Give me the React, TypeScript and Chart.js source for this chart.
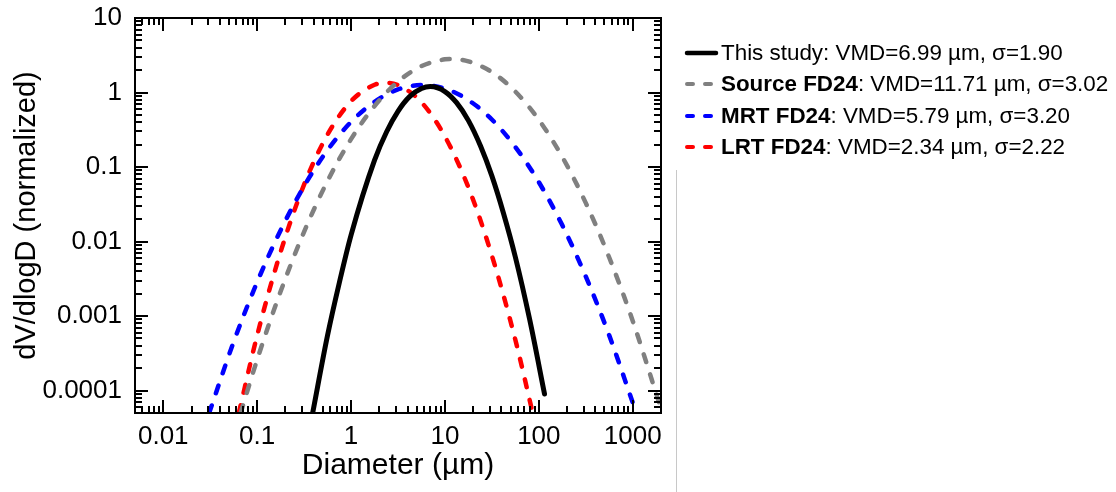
import React, { useEffect, useRef } from 'react';
import { Chart, registerables } from 'chart.js';

Chart.register(...registerables);

// ---- Data ----
const thisStudyD = [0.39, 0.56, 0.75, 1, 1.78, 2.4, 3.16, 4.2, 5.62, 6.99, 10, 13.3, 17.8, 24, 31.6, 42, 56.2, 80, 115];
const thisStudyV = [0.00005, 0.00054, 0.0028, 0.0122, 0.124, 0.3, 0.56, 0.88, 1.13, 1.2, 1.03, 0.73, 0.42, 0.19, 0.076, 0.024, 0.0062, 0.00089, 0.00009];

const sourceD = [0.0667, 0.1, 0.178, 0.316, 0.562, 1, 1.78, 3.16, 5.62, 10, 11.7, 17.8, 31.6, 56.2, 100, 178, 316, 562, 1000, 2000];
const sourceV = [0.00005, 0.00026, 0.00215, 0.0135, 0.065, 0.237, 0.66, 1.4, 2.26, 2.79, 2.82, 2.62, 1.88, 1.03, 0.43, 0.136, 0.033, 0.0061, 0.00086, 0.000057];

const mrtD = [0.0308, 0.0562, 0.1, 0.178, 0.316, 0.562, 1, 1.78, 3.16, 5.79, 10, 17.8, 31.6, 56.2, 100, 178, 316, 562, 1000];
const mrtV = [0.00005, 0.00045, 0.00286, 0.0142, 0.0554, 0.169, 0.403, 0.75, 1.1, 1.26, 1.13, 0.79, 0.434, 0.186, 0.0627, 0.0165, 0.0034, 0.00055, 0.000069];

const lrtD = [0.0638, 0.1, 0.178, 0.316, 0.562, 1, 1.78, 2.34, 3.16, 5.62, 10, 17.8, 31.6, 56.2, 86];
const lrtV = [0.00005, 0.00055, 0.0073, 0.058, 0.273, 0.764, 1.27, 1.35, 1.26, 0.74, 0.257, 0.053, 0.0065, 0.00048, 0.00005];

const xTickValues = [0.01, 0.1, 1, 10, 100, 1000];
const xTickLabels = ['0.01', '0.1', '1', '10', '100', '1000'];
const yTickValues = [0.0001, 0.001, 0.01, 0.1, 1, 10];
const yTickLabels = ['0.0001', '0.001', '0.01', '0.1', '1', '10'];

const seriesNames = ['This study', 'Source FD24', 'MRT FD24', 'LRT FD24'];
const seriesStats = [': VMD=6.99 µm, σ=1.90', ': VMD=11.71 µm, σ=3.02', ': VMD=5.79 µm, σ=3.20', ': VMD=2.34 µm, σ=2.22'];
const seriesBold = [false, true, true, true];
const seriesColors = ['#000000', '#808080', '#0000ff', '#ff0000'];
const seriesDashed = [false, true, true, true];

const xTitle = 'Diameter (µm)';
const yTitle = 'dV/dlogD (normalized)';

const FONT = '"Liberation Sans", Arial, sans-serif';

function pts(xs: number[], ys: number[]) {
  return xs.map((x, i) => ({ x, y: ys[i] }));
}

function labelFor(values: number[], labels: string[], v: number) {
  const i = values.findIndex((t) => Math.abs(t - v) / t < 1e-6);
  return i >= 0 ? labels[i] : '';
}

const framePlugin = {
  id: 'frameTicks',
  afterDraw(chart: any) {
    const { ctx, chartArea } = chart;
    const { left, right, top, bottom } = chartArea;
    const xs = chart.scales.x;
    const ys = chart.scales.y;
    ctx.save();
    ctx.strokeStyle = '#000';
    ctx.lineWidth = 2;
    ctx.strokeRect(left, top, right - left, bottom - top);
    ctx.lineWidth = 2;
    const major = 13;
    const minor = 7;
    for (let e = -6; e <= 5; e++) {
      for (let m = 1; m <= 9; m++) {
        const v = m * Math.pow(10, e);
        const len = m === 1 ? major : minor;
        if (v >= xs.min * 0.9999 && v <= xs.max * 1.0001) {
          const px = Math.round(xs.getPixelForValue(v));
          ctx.beginPath();
          ctx.moveTo(px, bottom);
          ctx.lineTo(px, bottom - len);
          ctx.moveTo(px, top);
          ctx.lineTo(px, top + len);
          ctx.stroke();
        }
        if (v >= ys.min * 0.9999 && v <= ys.max * 1.0001) {
          const py = Math.round(ys.getPixelForValue(v));
          ctx.beginPath();
          ctx.moveTo(left, py);
          ctx.lineTo(left + len, py);
          ctx.moveTo(right, py);
          ctx.lineTo(right - len, py);
          ctx.stroke();
        }
      }
    }
    ctx.restore();
  },
};

export default function App() {
  const ref = useRef<HTMLCanvasElement | null>(null);

  useEffect(() => {
    if (!ref.current) return;
    const all = [
      pts(thisStudyD, thisStudyV),
      pts(sourceD, sourceV),
      pts(mrtD, mrtV),
      pts(lrtD, lrtV),
    ];
    const chart = new Chart(ref.current, {
      type: 'line',
      data: {
        datasets: all.map((d, i) => ({
          label: seriesNames[i],
          data: d,
          borderColor: seriesColors[i],
          backgroundColor: seriesColors[i],
          borderWidth: seriesDashed[i] ? 4.5 : 5,
          borderDash: seriesDashed[i] ? [8, 13] : [],
          borderCapStyle: 'round',
          borderJoinStyle: 'round',
          pointRadius: 0,
          pointHoverRadius: 0,
          fill: false,
          cubicInterpolationMode: 'monotone',
        })),
      },
      options: {
        responsive: false,
        animation: false,
        events: [],
        layout: { padding: { left: 0, right: 455, top: 18, bottom: 0 } },
        plugins: {
          legend: { display: false },
          tooltip: { enabled: false },
        },
        scales: {
          x: {
            type: 'logarithmic',
            min: 0.005,
            max: 2000,
            grid: { display: false, drawTicks: false },
            border: { display: false },
            afterBuildTicks: (scale: any) => {
              scale.ticks = xTickValues.map((v) => ({ value: v }));
            },
            afterFit: (scale: any) => {
              scale.height = 79;
              scale.paddingLeft = 0;
              scale.paddingRight = 0;
              scale.paddingTop = 0;
              scale.paddingBottom = 0;
            },
            ticks: {
              autoSkip: false,
              maxRotation: 0,
              padding: 8,
              color: '#000',
              font: { family: FONT, size: 26 },
              callback: (v: any) => labelFor(xTickValues, xTickLabels, Number(v)),
            },
            title: {
              display: true,
              text: xTitle,
              color: '#000',
              font: { family: FONT, size: 30 },
              padding: { top: 0, bottom: 8 },
            },
          },
          y: {
            type: 'logarithmic',
            min: 0.00005,
            max: 10,
            grid: { display: false, drawTicks: false },
            border: { display: false },
            afterBuildTicks: (scale: any) => {
              scale.ticks = yTickValues.map((v) => ({ value: v }));
            },
            afterFit: (scale: any) => {
              scale.width = 135;
              scale.paddingLeft = 0;
              scale.paddingRight = 0;
              scale.paddingTop = 0;
              scale.paddingBottom = 0;
            },
            ticks: {
              autoSkip: false,
              padding: 13,
              color: '#000',
              font: { family: FONT, size: 26 },
              callback: (v: any) => labelFor(yTickValues, yTickLabels, Number(v)),
            },
            title: {
              display: true,
              text: yTitle,
              color: '#000',
              font: { family: FONT, size: 29 },
              padding: { top: 10, bottom: 0 },
            },
          },
        },
      } as any,
      plugins: [framePlugin],
    });
    return () => chart.destroy();
  }, []);

  const rowTop = 37;
  const rowH = 31.5;

  return (
    <div style={{ position: 'fixed', left: 0, top: 0, width: 1116, height: 492, background: '#fff', overflow: 'hidden' }}>
      <canvas ref={ref} width={1116} height={492} style={{ display: 'block', width: 1116, height: 492 }} />
      <div style={{ position: 'absolute', left: 676, top: 170, width: 1, height: 322, background: '#c8c8c8' }} />
      {seriesNames.map((name, i) => (
        <div
          key={name}
          style={{
            position: 'absolute',
            left: 684,
            top: rowTop + i * rowH,
            height: rowH,
            display: 'flex',
            alignItems: 'center',
            whiteSpace: 'nowrap',
            fontFamily: FONT,
            fontSize: 22.4,
            color: '#000',
          }}
        >
          <svg width={35} height={10} style={{ marginRight: 2 }}>
            <line
              x1={3}
              y1={5}
              x2={32}
              y2={5}
              stroke={seriesColors[i]}
              strokeWidth={seriesDashed[i] ? 4 : 4.5}
              strokeLinecap="round"
              strokeDasharray={seriesDashed[i] ? '6 12' : undefined}
            />
          </svg>
          <span style={{ fontWeight: seriesBold[i] ? 'bold' : 'normal' }}>{name}</span>
          <span>{seriesStats[i]}</span>
        </div>
      ))}
    </div>
  );
}
